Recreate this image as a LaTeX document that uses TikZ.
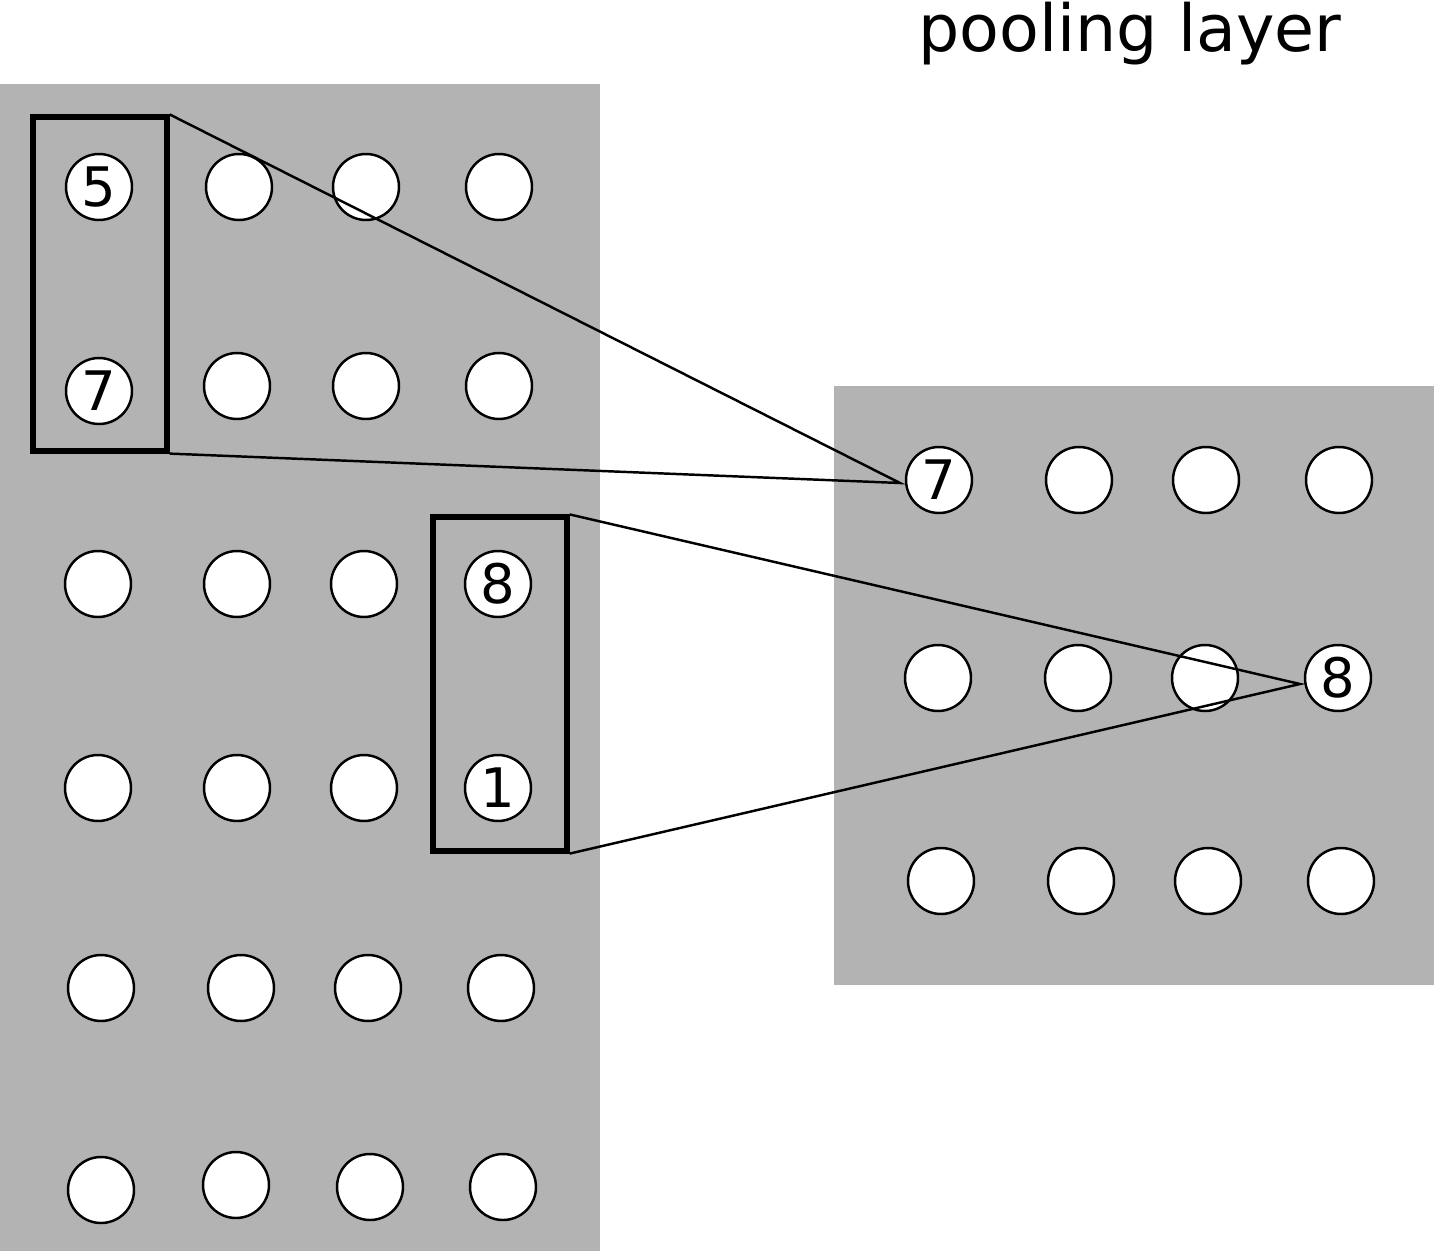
\documentclass[tikz,border=0pt]{standalone}
\usepackage{fontspec}
\setmainfont{DejaVu Sans}
\definecolor{panel}{HTML}{B3B3B3}
\begin{document}
\begin{tikzpicture}[x=0.02cm,y=-0.02cm,
  unit/.style={circle,draw=black,fill=white,line width=1.4pt,minimum size=1.32cm,inner sep=0pt,font=\fontsize{31}{31}\selectfont},
  poolbox/.style={draw=black,line width=3pt,minimum width=2.68cm,minimum height=6.68cm,inner sep=0pt},
  link/.style={draw=black,line width=1.4pt}]
\useasboundingbox (0,0) rectangle (1434,1251);
\fill[panel] (0,84) rectangle (600,1251);
\fill[panel] (834,386) rectangle (1434,985);
\node[font=\fontsize{37}{37}\selectfont] (title) at (1130,34) {pooling layer};
% left layer
\node[unit] (l11) at (99,187) {5};
\node[unit] (l12) at (239,187) {};
\node[unit] (l13) at (366,187) {};
\node[unit] (l14) at (499,187) {};
\node[unit] (l21) at (99,391) {7};
\node[unit] (l22) at (237,386) {};
\node[unit] (l23) at (366,386) {};
\node[unit] (l24) at (499,386) {};
\node[unit] (l31) at (98,584) {};
\node[unit] (l32) at (237,584) {};
\node[unit] (l33) at (364,584) {};
\node[unit] (l34) at (498,584) {8};
\node[unit] (l41) at (98,788) {};
\node[unit] (l42) at (237,788) {};
\node[unit] (l43) at (364,788) {};
\node[unit] (l44) at (498,788) {1};
\node[unit] (l51) at (101,988) {};
\node[unit] (l52) at (241,988) {};
\node[unit] (l53) at (368,988) {};
\node[unit] (l54) at (501,988) {};
\node[unit] (l61) at (101,1190) {};
\node[unit] (l62) at (236,1185) {};
\node[unit] (l63) at (370,1187) {};
\node[unit] (l64) at (503,1187) {};
% right layer
\node[unit] (r11) at (939,480) {7};
\node[unit] (r12) at (1079,480) {};
\node[unit] (r13) at (1206,480) {};
\node[unit] (r14) at (1339,480) {};
\node[unit] (r21) at (938,678) {};
\node[unit] (r22) at (1078,678) {};
\node[unit] (r23) at (1205,678) {};
\node[unit] (r24) at (1338,678) {8};
\node[unit] (r31) at (941,881) {};
\node[unit] (r32) at (1081,881) {};
\node[unit] (r33) at (1208,881) {};
\node[unit] (r34) at (1341,881) {};
% pooling windows
\node[poolbox] (b1) at (100,284) {};
\node[poolbox] (b2) at (500,684) {};
\coordinate (p1) at (900,483);
\coordinate (p2) at (1300,684);
\draw[link] (b1.north east) -- (p1) -- (b1.south east);
\draw[link] (b2.north east) -- (p2) -- (b2.south east);
\end{tikzpicture}
\end{document}
